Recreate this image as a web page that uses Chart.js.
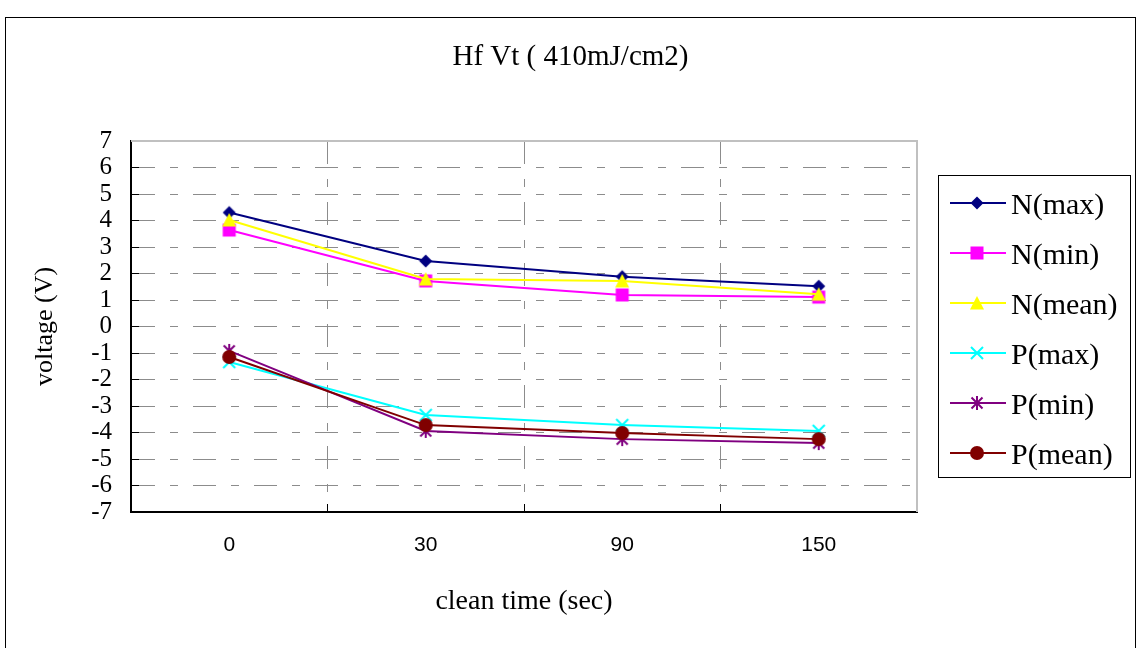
<!DOCTYPE html>
<html>
<head>
<meta charset="utf-8">
<script src="https://cdn.jsdelivr.net/npm/chart.js@4.4.0/dist/chart.umd.min.js"></script>
<style>
  html, body { margin: 0; padding: 0; background: #fff; }
  #wrap { position: relative; width: 1141px; height: 648px; }
</style>
</head>
<body>
<div id="wrap"><canvas id="vtChart" width="1141" height="648"></canvas></div>
<script>
// clean time categories (sec)
const cleanTimes = ['0', '30', '90', '150'];
const seriesNames = ['N(max)', 'N(min)', 'N(mean)', 'P(max)', 'P(min)', 'P(mean)'];

// Vt values (V)
const nMax  = [4.30, 2.47, 1.88, 1.52];
const nMin  = [3.64, 1.72, 1.19, 1.11];
const nMean = [4.02, 1.79, 1.72, 1.22];
const pMax  = [-1.34, -3.34, -3.72, -3.94];
const pMin  = [-0.92, -3.94, -4.25, -4.40];
const pMean = [-1.15, -3.72, -4.02, -4.25];

const yTicks = [-7, -6, -5, -4, -3, -2, -1, 0, 1, 2, 3, 4, 5, 6, 7];

const colors = ['#000080', '#ff00ff', '#ffff00', '#00ffff', '#800080', '#800000'];
const markerKinds = ['diamond', 'square', 'triangle', 'cross', 'star', 'circle'];

// excel-like marker drawn on a small canvas, used as pointStyle
function makeMarker(kind, color){
    const c = document.createElement('canvas');
    c.width = 16; c.height = 16;
    const g = c.getContext('2d');
    g.fillStyle = color;
    g.strokeStyle = color;
    g.lineWidth = 2;
    g.beginPath();
    if(kind === 'diamond'){
        g.moveTo(8, 1.5); g.lineTo(14.5, 8); g.lineTo(8, 14.5); g.lineTo(1.5, 8);
        g.closePath(); g.fill();
    } else if(kind === 'square'){
        g.fillRect(1.5, 1.5, 13, 13);
    } else if(kind === 'triangle'){
        g.moveTo(8, 1); g.lineTo(15, 14.5); g.lineTo(1, 14.5);
        g.closePath(); g.fill();
    } else if(kind === 'cross'){
        g.moveTo(2, 2); g.lineTo(14, 14);
        g.moveTo(14, 2); g.lineTo(2, 14);
        g.stroke();
    } else if(kind === 'star'){
        g.moveTo(2.5, 2.5); g.lineTo(13.5, 13.5);
        g.moveTo(13.5, 2.5); g.lineTo(2.5, 13.5);
        g.moveTo(8, 1); g.lineTo(8, 15);
        g.stroke();
    } else {
        g.arc(8, 8, 7, 0, Math.PI*2);
        g.fill();
    }
    return c;
}

const allValues = [nMax, nMin, nMean, pMax, pMin, pMean];
const datasets = allValues.map((vals, i) => ({
    label: seriesNames[i],
    data: vals,
    borderColor: colors[i],
    backgroundColor: colors[i],
    borderWidth: 2,
    tension: 0,
    pointStyle: makeMarker(markerKinds[i], colors[i]),
    pointRadius: 6,
    pointHoverRadius: 6,
    order: seriesNames.length - i   // later series drawn on top, like excel
}));

const dashPattern = [23, 15, 8, 15];

// outer frame + white background
const framePlugin = {
    id: 'frame',
    beforeDraw(chart){
        const ctx = chart.ctx;
        ctx.save();
        ctx.fillStyle = '#fff';
        ctx.fillRect(0, 0, chart.width, chart.height);
        ctx.strokeStyle = '#000';
        ctx.lineWidth = 1;
        ctx.strokeRect(5.5, 17.5, 1130, 700);
        ctx.restore();
    }
};

// light grey top/right edges of the plot area
const plotEdgePlugin = {
    id: 'plotEdge',
    beforeDatasetsDraw(chart){
        const {ctx, chartArea: a} = chart;
        ctx.save();
        ctx.strokeStyle = '#c0c0c0';
        ctx.lineWidth = 2;
        ctx.beginPath();
        ctx.moveTo(a.left, a.top);
        ctx.lineTo(a.right, a.top);
        ctx.lineTo(a.right, a.bottom);
        ctx.stroke();
        ctx.restore();
    }
};

// boxed legend with line + marker samples
const boxLegendPlugin = {
    id: 'boxLegend',
    afterDraw(chart){
        const ctx = chart.ctx;
        const box = {x: 938.5, y: 175.5, w: 192, h: 302};
        ctx.save();
        ctx.strokeStyle = '#000';
        ctx.lineWidth = 1;
        ctx.strokeRect(box.x, box.y, box.w, box.h);
        chart.data.datasets.forEach((ds, i) => {
            const y = 203 + i*50;
            ctx.strokeStyle = ds.borderColor;
            ctx.lineWidth = 2;
            ctx.beginPath();
            ctx.moveTo(950, y);
            ctx.lineTo(1006, y);
            ctx.stroke();
            const m = ds.pointStyle;
            ctx.drawImage(m, 977 - m.width/2, y - m.height/2);
            ctx.fillStyle = '#000';
            ctx.font = '30px "Liberation Serif"';
            ctx.textAlign = 'left';
            ctx.textBaseline = 'middle';
            ctx.fillText(ds.label, 1011, y + 3);
        });
        ctx.restore();
    }
};

new Chart(document.getElementById('vtChart'), {
    type: 'line',
    data: { labels: cleanTimes, datasets },
    plugins: [framePlugin, plotEdgePlugin, boxLegendPlugin],
    options: {
        responsive: false,
        animation: false,
        events: [],
        layout: { padding: 0 },
        plugins: {
            legend: { display: false },
            tooltip: { enabled: false },
            title: {
                display: true,
                text: 'Hf Vt ( 410mJ/cm2)',
                color: '#000',
                font: { family: 'Liberation Serif', size: 29, weight: 'normal' },
                padding: { top: 39.6, bottom: 66.6 }
            }
        },
        scales: {
            x: {
                type: 'category',
                offset: true,
                afterFit(s){ s.height = 136; },
                grid: {
                    offset: true,
                    color: '#8c8c8c',
                    lineWidth: 1,
                    tickLength: -8,
                    tickColor: '#000',
                    tickWidth: 1
                },
                border: { display: true, color: '#000', width: 2, dash: dashPattern },
                ticks: {
                    color: '#000',
                    font: { family: 'Liberation Sans', size: 21 },
                    padding: 29,
                    maxRotation: 0
                },
                title: {
                    display: true,
                    text: 'clean time (sec)',
                    color: '#000',
                    font: { family: 'Liberation Serif', size: 28 },
                    padding: { top: 0, bottom: 30 }
                }
            },
            y: {
                min: yTicks[0],
                max: yTicks[yTicks.length - 1],
                afterFit(s){ s.width = 131; },
                afterBuildTicks(s){ s.ticks = yTicks.map(v => ({value: v})); },
                grid: {
                    color: '#8c8c8c',
                    lineWidth: 1,
                    tickLength: -8,
                    tickColor: '#000',
                    tickWidth: 1
                },
                border: { display: true, color: '#000', width: 2, dash: dashPattern },
                ticks: {
                    color: '#000',
                    autoSkip: false,
                    font: { family: 'Liberation Serif', size: 25, lineHeight: 1 },
                    padding: 27
                },
                title: {
                    display: true,
                    text: 'voltage (V)',
                    color: '#000',
                    font: { family: 'Liberation Serif', size: 26 },
                    padding: { top: 30, bottom: 0 }
                }
            },
            // invisible right axis reserving room for the legend box
            yRight: {
                position: 'right',
                display: true,
                afterFit(s){ s.width = 224; },
                grid: { display: false, drawOnChartArea: false },
                border: { display: false },
                ticks: { display: false }
            }
        }
    }
});
</script>
</body>
</html>
